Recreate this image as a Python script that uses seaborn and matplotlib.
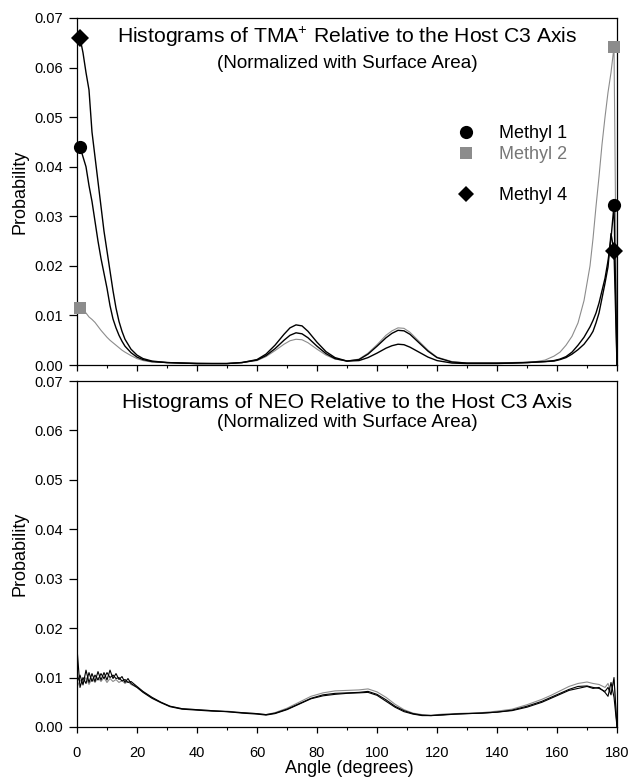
import matplotlib
matplotlib.use("Agg")
import matplotlib.pyplot as plt
import seaborn as sns
import numpy as np
from matplotlib.lines import Line2D
from matplotlib.ticker import MultipleLocator

sns.set_theme(style="ticks")
plt.rcParams['font.family'] = ['Liberation Sans', 'DejaVu Sans']
plt.rcParams['mathtext.default'] = 'regular'
plt.rcParams['text.color'] = 'black'
plt.rcParams['axes.labelcolor'] = 'black'
plt.rcParams['xtick.color'] = 'black'
plt.rcParams['ytick.color'] = 'black'

# ---------------- TMA+ panel data ----------------
tma_angle = [1, 2, 3, 4, 5, 6, 7, 8, 9, 10, 11, 12, 13, 14, 15, 16, 18, 20, 22, 25,
             30, 35, 40, 45, 50, 55, 60, 63, 66, 69, 71, 73, 75, 77, 80, 83, 86, 90,
             94, 97, 100, 103, 105, 107, 109, 111, 114, 117, 120, 125, 130, 135, 140,
             145, 150, 153, 156, 159, 161, 163, 165, 167, 169, 171, 172, 173, 174,
             175, 176, 177, 178, 179, 180]
tma_methyl1 = [0.0440, 0.0420, 0.0400, 0.0362, 0.0330, 0.0290, 0.0250, 0.0215, 0.0185,
               0.0155, 0.0120, 0.0093, 0.0075, 0.0060, 0.0048, 0.0038, 0.0025, 0.0016,
               0.0011, 0.0007, 0.0005, 0.0004, 0.0003, 0.0003, 0.0003, 0.0005, 0.0010,
               0.0019, 0.0033, 0.0050, 0.0060, 0.0065, 0.0063, 0.0055, 0.0038, 0.0023,
               0.0013, 0.0008, 0.0011, 0.0022, 0.0038, 0.0055, 0.0064, 0.0070, 0.0069,
               0.0062, 0.0045, 0.0028, 0.0015, 0.0006, 0.0004, 0.0004, 0.0004, 0.0004,
               0.0005, 0.0006, 0.0007, 0.0009, 0.0012, 0.0017, 0.0026, 0.0040, 0.0056,
               0.0077, 0.0090, 0.0105, 0.0125, 0.0150, 0.0175, 0.0210, 0.0255, 0.0323,
               0.0]
tma_methyl2 = [0.0115, 0.0110, 0.0105, 0.0097, 0.0092, 0.0086, 0.0078, 0.0070, 0.0063,
               0.0056, 0.0050, 0.0045, 0.0040, 0.0035, 0.0030, 0.0026, 0.0019, 0.0013,
               0.0009, 0.0006, 0.0005, 0.0004, 0.0004, 0.0003, 0.0003, 0.0005, 0.0009,
               0.0017, 0.0029, 0.0042, 0.0049, 0.0052, 0.0051, 0.0045, 0.0032, 0.0020,
               0.0012, 0.0008, 0.0012, 0.0024, 0.0041, 0.0060, 0.0069, 0.0075, 0.0074,
               0.0066, 0.0048, 0.0030, 0.0016, 0.0007, 0.0004, 0.0004, 0.0004, 0.0005,
               0.0006, 0.0007, 0.0010, 0.0018, 0.0026, 0.0040, 0.0058, 0.0085, 0.0130,
               0.0200, 0.0255, 0.0320, 0.0380, 0.0445, 0.0500, 0.0550, 0.0590, 0.0642,
               0.0]
tma_methyl4 = [0.0660, 0.0630, 0.0590, 0.0555, 0.0470, 0.0420, 0.0370, 0.0320, 0.0270,
               0.0230, 0.0190, 0.0150, 0.0115, 0.0088, 0.0068, 0.0052, 0.0032, 0.0020,
               0.0013, 0.0008, 0.0005, 0.0004, 0.0003, 0.0003, 0.0003, 0.0005, 0.0011,
               0.0022, 0.0040, 0.0062, 0.0075, 0.0081, 0.0079, 0.0068, 0.0046, 0.0027,
               0.0015, 0.0008, 0.0009, 0.0015, 0.0024, 0.0034, 0.0039, 0.0042, 0.0041,
               0.0036, 0.0026, 0.0016, 0.0009, 0.0004, 0.0003, 0.0003, 0.0003, 0.0004,
               0.0005, 0.0006, 0.0007, 0.0008, 0.0011, 0.0015, 0.0022, 0.0031, 0.0042,
               0.0058, 0.0068, 0.0085, 0.0105, 0.0135, 0.0165, 0.0198, 0.0265, 0.0230,
               0.0]

# ---------------- NEO panel data ----------------
neo_angle = [0, 1, 2, 3, 4, 5, 6, 7, 8, 9, 10, 11, 12, 13, 14, 15, 16, 17, 18, 20, 22,
             25, 28, 31, 35, 40, 45, 50, 55, 60, 63, 66, 70, 74, 78, 82, 86, 90, 94, 97,
             100, 103, 106, 109, 112, 115, 118, 122, 126, 130, 135, 140, 145, 150, 155,
             158, 161, 164, 167, 170, 172, 174, 176, 177, 178, 179, 180]
neo_a = [0.0160, 0.0080, 0.0100, 0.0088, 0.0110, 0.0092, 0.0105, 0.0095, 0.0108, 0.0098,
         0.0110, 0.0100, 0.0105, 0.0098, 0.0100, 0.0093, 0.0096, 0.0090, 0.0092, 0.0082,
         0.0072, 0.0060, 0.0050, 0.0042, 0.0037, 0.0035, 0.0033, 0.0031, 0.0029, 0.0027,
         0.0025, 0.0028, 0.0036, 0.0047, 0.0058, 0.0065, 0.0068, 0.0069, 0.0070, 0.0072,
         0.0066, 0.0055, 0.0042, 0.0033, 0.0027, 0.0024, 0.0023, 0.0025, 0.0026, 0.0027,
         0.0028, 0.0030, 0.0034, 0.0042, 0.0052, 0.0060, 0.0068, 0.0076, 0.0082, 0.0083,
         0.0080, 0.0078, 0.0072, 0.0080, 0.0065, 0.0100, 0.0]
neo_b = [0.0090, 0.0105, 0.0085, 0.0115, 0.0090, 0.0108, 0.0092, 0.0112, 0.0095, 0.0110,
         0.0095, 0.0115, 0.0098, 0.0108, 0.0096, 0.0102, 0.0090, 0.0098, 0.0088, 0.0080,
         0.0070, 0.0058, 0.0049, 0.0041, 0.0036, 0.0034, 0.0032, 0.0031, 0.0028, 0.0026,
         0.0024, 0.0027, 0.0035, 0.0046, 0.0057, 0.0063, 0.0066, 0.0068, 0.0069, 0.0070,
         0.0064, 0.0052, 0.0040, 0.0031, 0.0026, 0.0023, 0.0023, 0.0024, 0.0026, 0.0027,
         0.0028, 0.0030, 0.0033, 0.0040, 0.0050, 0.0058, 0.0066, 0.0074, 0.0078, 0.0082,
         0.0078, 0.0080, 0.0070, 0.0062, 0.0090, 0.0060, 0.0]
neo_c = [0.0080, 0.0095, 0.0088, 0.0100, 0.0086, 0.0098, 0.0090, 0.0100, 0.0092, 0.0100,
         0.0090, 0.0098, 0.0092, 0.0096, 0.0090, 0.0094, 0.0088, 0.0092, 0.0086, 0.0080,
         0.0071, 0.0059, 0.0050, 0.0042, 0.0037, 0.0035, 0.0033, 0.0032, 0.0029, 0.0027,
         0.0025, 0.0029, 0.0038, 0.0050, 0.0062, 0.0069, 0.0073, 0.0074, 0.0075, 0.0077,
         0.0071, 0.0060, 0.0046, 0.0035, 0.0028, 0.0025, 0.0024, 0.0026, 0.0027, 0.0028,
         0.0029, 0.0032, 0.0036, 0.0045, 0.0056, 0.0064, 0.0073, 0.0082, 0.0088, 0.0091,
         0.0088, 0.0086, 0.0080, 0.0088, 0.0070, 0.0095, 0.0]

legend_labels = ["Methyl 1", "Methyl 2", " ", "Methyl 4"]
yticks = [0.00, 0.01, 0.02, 0.03, 0.04, 0.05, 0.06, 0.07]
xticks = [0, 20, 40, 60, 80, 100, 120, 140, 160, 180]

BLACK = "#000000"
GRAY = "#8c8c8c"

fig = plt.figure(figsize=(6.28, 7.79), dpi=100)
ax1 = fig.add_axes([0.1226, 0.5314, 0.8599, 0.4455])
ax2 = fig.add_axes([0.1226, 0.0668, 0.8599, 0.4441])

# Top panel lines
sns.lineplot(x=tma_angle, y=tma_methyl2, ax=ax1, color=GRAY, linewidth=0.8)
sns.lineplot(x=tma_angle, y=tma_methyl1, ax=ax1, color=BLACK, linewidth=1.0)
sns.lineplot(x=tma_angle, y=tma_methyl4, ax=ax1, color=BLACK, linewidth=1.0)

# endpoint markers (first and last non-zero data values)
for vals, mk, col, ms in [(tma_methyl1, 'o', BLACK, 9.5),
                          (tma_methyl2, 's', GRAY, 8.5),
                          (tma_methyl4, 'D', BLACK, 9)]:
    xs = [tma_angle[0], tma_angle[-2]]
    ys = [vals[0], vals[-2]]
    ax1.plot(xs, ys, linestyle='none', marker=mk, color=col, markersize=ms,
             markeredgewidth=0, clip_on=False, zorder=5)

# Bottom panel lines
sns.lineplot(x=neo_angle, y=neo_c, ax=ax2, color=GRAY, linewidth=0.8)
sns.lineplot(x=neo_angle, y=neo_b, ax=ax2, color=BLACK, linewidth=0.8)
sns.lineplot(x=neo_angle, y=neo_a, ax=ax2, color=BLACK, linewidth=0.8)

for ax in (ax1, ax2):
    ax.set_xlim(0, 180)
    ax.set_ylim(0, 0.07)
    ax.set_yticks(yticks)
    ax.set_yticklabels([f"{v:.2f}" for v in yticks])
    ax.set_xticks(xticks)
    ax.xaxis.set_minor_locator(MultipleLocator(10))
    ax.tick_params(axis='y', direction='out', length=6, width=0.9, labelsize=10.5, pad=4,
                   colors='black')
    ax.tick_params(axis='x', which='major', direction='out', length=4, width=0.9,
                   labelsize=10.5, pad=10, colors='black')
    ax.tick_params(axis='x', which='minor', direction='out', length=2.5, width=0.8)
    for s in ax.spines.values():
        s.set_visible(True)
        s.set_color('black')
        s.set_linewidth(0.9)
    ax.set_ylabel("Probability", fontsize=13, labelpad=4, color='black')
    ax.set_facecolor('white')

ax1.set_xticklabels([])
ax1.set_xlabel("")
ax2.set_xlabel("Angle (degrees)", fontsize=13, color='black')
ax2.xaxis.set_label_coords(0.504, -0.095)

ax1.text(0.5, 0.928, "Histograms of TMA$^{+}$ Relative to the Host C3 Axis",
         transform=ax1.transAxes, ha='center', va='baseline', fontsize=15.2, color='black')
ax1.text(0.5, 0.857, "(Normalized with Surface Area)",
         transform=ax1.transAxes, ha='center', va='baseline', fontsize=13.6, color='black')
ax2.text(0.5, 0.922, "Histograms of NEO Relative to the Host C3 Axis",
         transform=ax2.transAxes, ha='center', va='baseline', fontsize=15.2, color='black')
ax2.text(0.5, 0.867, "(Normalized with Surface Area)",
         transform=ax2.transAxes, ha='center', va='baseline', fontsize=13.6, color='black')

handles = [Line2D([], [], linestyle='none', marker='o', color=BLACK, markersize=9.5, markeredgewidth=0),
           Line2D([], [], linestyle='none', marker='s', color=GRAY, markersize=8, markeredgewidth=0),
           Line2D([], [], linestyle='none', marker=None),
           Line2D([], [], linestyle='none', marker='D', color=BLACK, markersize=8.5, markeredgewidth=0)]
leg = ax1.legend(handles, legend_labels, loc='upper left', bbox_to_anchor=(0.704, 0.691),
                 frameon=False, fontsize=13, handlelength=1.0, handletextpad=1.33,
                 labelspacing=0.2, borderpad=0, borderaxespad=0)
for t in leg.get_texts():
    t.set_color('black')
leg.get_texts()[1].set_color('#777777')

fig.savefig("out.png", dpi=100, facecolor='white')
